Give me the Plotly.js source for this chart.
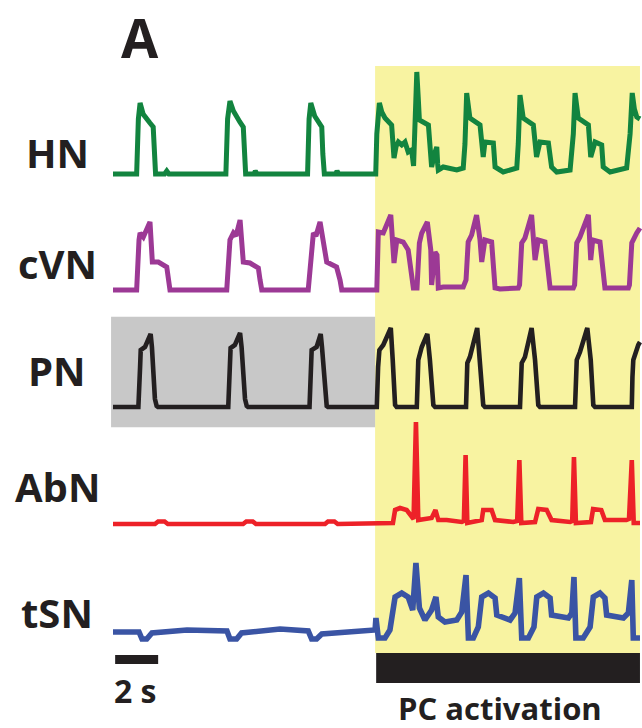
<!DOCTYPE html>
<html>
<head>
<meta charset="utf-8">
<script src="https://cdn.plot.ly/plotly-3.0.1.min.js"></script>
<style>html,body{margin:0;padding:0;background:#fff;}#chart{width:642px;height:728px;}</style>
</head>
<body>
<div id="chart"></div>
<script>
// ---- data (time in s, amplitude in arbitrary units, baseline = 0) ----
const nerveNames = ['HN', 'cVN', 'PN', 'AbN', 'tSN'];

const hnT = [0, 1.10, 1.18, 1.26, 1.40, 1.57, 1.72, 1.87, 1.92, 1.98, 2.40, 2.50, 2.60,
  5.25, 5.33, 5.44, 5.60, 5.75, 5.90, 6.06, 6.10, 6.17, 6.55, 6.62, 6.70,
  9.05, 9.12, 9.20, 9.38, 9.55, 9.71, 9.76, 9.83, 10.35, 10.42, 10.50,
  12.22, 12.27, 12.39, 12.50, 12.65, 12.96, 13.02, 13.07, 13.17, 13.27, 13.43, 13.58, 13.73, 13.89, 13.98, 14.05, 14.13, 14.20, 14.25, 14.67, 14.75, 14.82, 14.95, 15.06, 15.10, 15.13, 15.36, 15.99, 16.29,
  16.37, 16.45, 16.52, 16.60, 17.07, 17.15, 17.22, 17.30, 17.69, 17.77, 18.15, 18.78,
  18.85, 18.93, 19.00, 19.08, 19.55, 19.62, 19.70, 19.86, 20.25, 20.40, 20.64, 21.26,
  21.41, 21.49, 21.56, 21.64, 22.11, 22.17, 22.22, 22.42, 22.73, 22.80, 23.12, 23.89,
  24.05, 24.15, 24.25, 24.36, 24.51];
const hnV = [0, 0, 55, 71, 60, 54, 51, 47, 20, 0, 0, 3, 0,
  0, 55, 73, 63, 56, 52, 47, 20, 0, 0, 3, 0,
  0, 55, 71, 58, 52, 47, 20, 0, 0, 3, 0,
  0, 40, 71, 62, 56, 49, 30, 16, 28, 32, 29, 32, 22, 24, 8, 60, 102, 75, 54, 49, 30, 7, 20, 27, 10, 4, 7, 4, 6,
  30, 81, 65, 56, 49, 30, 17, 32, 31, 7, 2, 6,
  30, 79, 65, 56, 49, 30, 17, 32, 31, 7, 2, 4,
  40, 81, 65, 56, 49, 30, 17, 32, 29, 7, 2, 6,
  40, 81, 65, 57, 55];

const cvnT = [0, 1.10, 1.21, 1.26, 1.41, 1.72, 1.83, 2.11, 2.50, 2.58, 2.65,
  5.29, 5.44, 5.60, 5.72, 5.91, 6.06, 6.37, 6.76, 6.84, 6.92,
  9.08, 9.24, 9.32, 9.44, 9.63, 9.94, 10.40, 10.56, 10.64,
  12.22, 12.27, 12.34, 12.57, 12.92, 13.07, 13.20, 13.50, 13.73, 13.97, 14.14, 14.25, 14.36, 14.62, 14.78, 14.82, 14.98, 15.07, 15.13, 15.36, 16.29,
  16.42, 16.52, 16.68, 16.91, 17.07, 17.15, 17.30, 17.61, 17.77, 18.00, 18.85,
  18.91, 19.01, 19.16, 19.47, 19.63, 19.78, 20.09, 20.33, 21.41,
  21.47, 21.57, 21.72, 22.11, 22.22, 22.31, 22.65, 22.88, 23.97,
  24.02, 24.13, 24.36, 24.51];
const cvnV = [0, 0, 50, 57, 53, 68, 28, 28, 23, 10, 0,
  0, 50, 57, 54, 70, 28, 27, 22, 10, 0,
  0, 50, 57, 54, 68, 28, 23, 10, 0,
  0, 0, 58, 57, 75, 27, 50, 48, 40, 2, 2, 47, 57, 68, 40, 5, 38, 35, 2, 3, 3,
  10, 48, 55, 75, 50, 28, 50, 48, 2, 1, 2,
  5, 47, 52, 75, 30, 50, 48, 2, 2,
  5, 47, 53, 75, 30, 50, 48, 2, 2,
  5, 47, 57, 62];

const pnT = [0, 1.18, 1.26, 1.29, 1.49, 1.75, 1.81, 1.87, 1.95, 2.03, 2.09,
  5.36, 5.42, 5.47, 5.67, 5.91, 5.98, 6.06, 6.14, 6.22, 6.28,
  9.14, 9.21, 9.24, 9.47, 9.66, 9.72, 9.81, 9.88, 9.94, 10.00,
  12.22, 12.27, 12.33, 12.39, 12.57, 12.92, 13.01, 13.12, 13.19, 14.13,
  14.16, 14.20, 14.36, 14.62, 14.74, 14.90, 14.98, 16.42,
  16.48, 16.60, 16.94, 17.07, 17.22, 17.30, 18.93,
  19.01, 19.16, 19.47, 19.63, 19.78, 19.86, 21.49,
  21.54, 21.57, 21.72, 22.06, 22.22, 22.34, 22.42, 24.13,
  24.16, 24.20, 24.43, 24.51];
const pnV = [0, 0, 40, 57, 60, 73, 60, 30, 8, 1, 0,
  0, 40, 59, 62, 74, 60, 30, 8, 1, 0,
  0, 40, 57, 60, 73, 60, 30, 8, 1, 0,
  0, 0, 40, 57, 62, 79, 47, 2, 0, 0,
  20, 47, 60, 73, 47, 2, 0, 0,
  44, 50, 79, 47, 2, 0, 0,
  44, 50, 79, 47, 2, 0, 0,
  30, 47, 55, 79, 47, 2, 0, 0,
  30, 47, 62, 65];

const abnT = [0, 1.95, 2.10, 2.40, 2.55, 6.05, 6.20, 6.50, 6.65, 9.86, 10.00, 10.30, 10.45,
  13.02, 13.12, 13.35, 13.66, 13.89, 13.98, 14.09, 14.20, 14.82, 15.00, 15.13, 15.52, 16.22,
  16.32, 16.40, 16.48, 17.15, 17.22, 17.61, 17.77, 18.62,
  18.80, 18.90, 18.99, 19.63, 19.78, 20.17, 20.40, 21.26,
  21.36, 21.44, 21.53, 22.23, 22.33, 22.71, 22.88, 23.88,
  24.00, 24.13, 24.22, 24.51];
const abnV = [0, 0, 2.5, 2.5, 0, 0, 2.5, 2.5, 0, 0, 2.5, 2.5, 0,
  1, 14, 16, 14, 6, 5, 102, 4, 6, 14, 4, 4, 2,
  3, 69, 1, 4, 14, 14, 4, 2,
  3, 64, 1, 2, 15, 14, 4, 2,
  3, 67, 1, 2, 15, 14, 4, 4,
  5, 64, 1, 1];

const tsnT = [0, 1.21, 1.35, 1.57, 1.81, 3.44, 5.30, 5.44, 5.75, 5.98, 7.77, 9.08, 9.24, 9.47, 9.71, 11.80, 12.19, 12.23, 12.34,
  12.65, 12.88, 13.12, 13.43, 13.73, 13.94, 14.09, 14.25, 14.51, 14.82, 15.02, 15.13, 15.44, 15.99, 16.22,
  16.42, 16.53, 16.76, 16.99, 17.15, 17.46, 17.77, 17.85, 18.47, 18.70,
  18.90, 19.01, 19.32, 19.58, 19.71, 20.02, 20.33, 20.40, 21.18, 21.34,
  21.44, 21.53, 21.87, 22.19, 22.34, 22.65, 22.88, 22.96, 23.74, 23.97,
  24.13, 24.20, 24.43, 24.51];
const tsnV = [0, 0, -7, -7, -1, 2, 1, -7, -7, -1, 3, 1, -7, -7, -2, 2, 2, 14, -6,
  -6, 2, 35, 39, 35, 22, 69, 24, 12, 22, 35, 15, 10, 12, 20,
  57, -6, -6, 5, 35, 39, 34, 17, 12, 19,
  54, -6, -6, 5, 35, 39, 34, 17, 14, 19,
  55, -6, -6, 5, 35, 39, 34, 17, 14, 19,
  52, -6, -6, -6];

const pcActivation = [12.19, 24.51];   // s
const controlPeriod = [-0.09, 12.19];  // s (grey box behind PN)
const scaleBar = [0.1, 2.1];           // 2 s

// ---- styles / layout ----
const colors = ['#12843f', '#9c3995', '#231f20', '#ed2128', '#3a54a4'];
const widths = [5, 5, 4.6, 4.6, 5.6];
const series = [[hnT, hnV], [cvnT, cvnV], [pnT, pnV], [abnT, abnV], [tsnT, tsnV]];
const H = 728, W = 642;
// pixel bands [top, bottom, baseline]
const bands = [[60, 195, 174], [195, 305, 290], [305, 420, 407], [420, 545, 524], [545, 650, 632]];
const labelY = [152, 263, 370, 487, 612];
const py = p => 1 - p / H;

const traces = series.map((s, i) => ({
  x: s[0], y: s[1], type: 'scatter', mode: 'lines',
  line: {color: colors[i], width: widths[i], shape: 'linear'},
  xaxis: 'x', yaxis: i === 0 ? 'y' : 'y' + (i + 1),
  hoverinfo: 'skip', showlegend: false
}));

const xPerPx = 1 / 21.5, x0px = 113;
const layout = {
  width: W, height: H,
  margin: {l: 0, r: 0, t: 0, b: 0, pad: 0},
  paper_bgcolor: '#ffffff', plot_bgcolor: 'rgba(0,0,0,0)',
  showlegend: false,
  xaxis: {range: [-x0px * xPerPx, (W - x0px) * xPerPx], domain: [0, 1], visible: false, fixedrange: true},
  shapes: [
    {type: 'rect', xref: 'x', yref: 'paper', x0: pcActivation[0], x1: pcActivation[1], y0: py(653), y1: py(66),
      fillcolor: '#f8f3a1', line: {width: 0}, layer: 'below'},
    {type: 'rect', xref: 'x', yref: 'paper', x0: controlPeriod[0], x1: controlPeriod[1], y0: py(427.3), y1: py(316.7),
      fillcolor: '#c8c8c8', line: {width: 0}, layer: 'below'},
    {type: 'rect', xref: 'x', yref: 'paper', x0: pcActivation[0] + 0.05, x1: pcActivation[1], y0: py(683), y1: py(653),
      fillcolor: '#231f20', line: {width: 0}, layer: 'above'},
    {type: 'rect', xref: 'x', yref: 'paper', x0: scaleBar[0], x1: scaleBar[1], y0: py(664), y1: py(655),
      fillcolor: '#231f20', line: {width: 0}, layer: 'above'}
  ],
  annotations: []
};
bands.forEach((b, i) => {
  const key = i === 0 ? 'yaxis' : 'yaxis' + (i + 1);
  layout[key] = {domain: [py(b[1]), py(b[0])], range: [b[2] - b[1], b[2] - b[0]], visible: false, anchor: 'x', fixedrange: true};
});
const fontFam = 'Open Sans, Liberation Sans, sans-serif';
nerveNames.forEach((n, i) => {
  layout.annotations.push({text: n, xref: 'paper', yref: 'paper', x: 57 / W, y: py(labelY[i]),
    xanchor: 'center', yanchor: 'middle', showarrow: false,
    font: {family: fontFam, size: 40, color: '#231f20', weight: 700}});
});
layout.annotations.push({text: 'A', xref: 'paper', yref: 'paper', x: 140 / W, y: py(37),
  xanchor: 'center', yanchor: 'middle', showarrow: false,
  font: {family: fontFam, size: 54, color: '#231f20', weight: 700}});
layout.annotations.push({text: '2 s', xref: 'paper', yref: 'paper', x: 135 / W, y: py(690),
  xanchor: 'center', yanchor: 'middle', showarrow: false,
  font: {family: fontFam, size: 32, color: '#231f20', weight: 700}});
layout.annotations.push({text: 'PC activation', xref: 'paper', yref: 'paper', x: 500 / W, y: py(708),
  xanchor: 'center', yanchor: 'middle', showarrow: false,
  font: {family: fontFam, size: 31, color: '#231f20', weight: 700}});

Plotly.newPlot('chart', traces, layout, {displayModeBar: false, staticPlot: true});
</script>
</body>
</html>
